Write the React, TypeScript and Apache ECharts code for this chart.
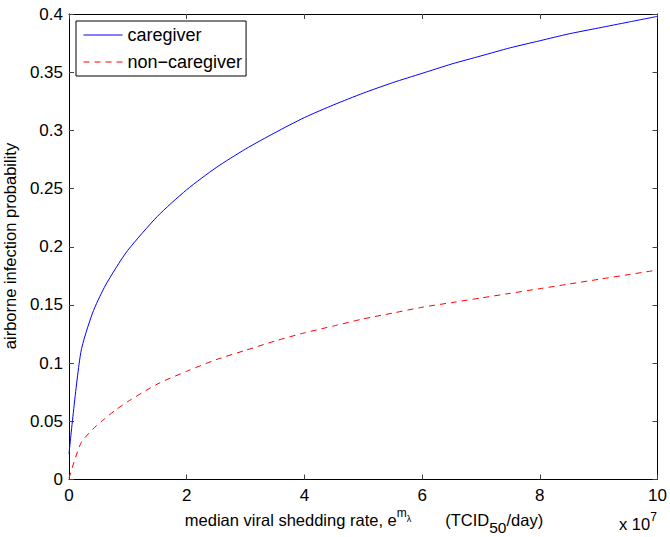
import React, { useEffect, useRef } from "react";
import * as echarts from "echarts";

const xValues = [0, 0.2, 0.4, 0.6, 0.8, 1.0, 1.5, 2.0, 2.5, 3.0, 3.5, 4.0, 4.5, 5.0, 5.5, 6.0, 6.5, 7.0, 7.5, 8.0, 8.5, 9.0, 9.5, 10];
const caregiver = [0.022, 0.109, 0.143, 0.165, 0.182, 0.197, 0.226, 0.249, 0.268, 0.284, 0.298, 0.311, 0.322, 0.332, 0.341, 0.349, 0.357, 0.364, 0.371, 0.377, 0.383, 0.388, 0.393, 0.398];
const nonCaregiver = [0.001, 0.031, 0.043, 0.052, 0.06, 0.067, 0.082, 0.093, 0.103, 0.111, 0.119, 0.126, 0.132, 0.138, 0.143, 0.148, 0.152, 0.156, 0.16, 0.164, 0.168, 0.172, 0.176, 0.18];
const seriesNames = ["caregiver", "non\u2212caregiver"];

const FONT = "'Liberation Sans', Arial, Helvetica, sans-serif";

export default function App() {
  const ref = useRef<HTMLDivElement>(null);
  useEffect(() => {
    if (!ref.current) return;
    const chart = echarts.init(ref.current, undefined, { renderer: "svg" });
    const toPairs = (ys: number[]) => xValues.map((x, i) => [x, ys[i]]);
    const axisCommon = {
      type: "value" as const,
      axisLine: { show: true, onZero: false, lineStyle: { color: "#000", width: 1 } },
      axisTick: { show: true, inside: true, length: 5, lineStyle: { color: "#444", width: 1 } },
      splitLine: { show: false },
    };
    chart.setOption({
      animation: false,
      backgroundColor: "#fff",
      textStyle: { fontFamily: FONT },
      grid: { left: 69, top: 14, right: 12, bottom: 57.5, containLabel: false },
      xAxis: [
        {
          ...axisCommon,
          position: "bottom",
          min: 0,
          max: 10,
          interval: 2,
          axisLabel: { show: true, color: "#000", fontSize: 17, fontFamily: FONT, margin: 7 },
        },
        {
          ...axisCommon,
          position: "top",
          min: 0,
          max: 10,
          interval: 2,
          axisLabel: { show: false },
        },
      ],
      yAxis: [
        {
          ...axisCommon,
          position: "left",
          min: 0,
          max: 0.4,
          interval: 0.05,
          axisLabel: { show: true, color: "#000", fontSize: 17, fontFamily: FONT, margin: 6 },
        },
        {
          ...axisCommon,
          position: "right",
          min: 0,
          max: 0.4,
          interval: 0.05,
          axisLabel: { show: false },
        },
      ],
      legend: {
        orient: "vertical",
        left: 76,
        top: 21,
        data: seriesNames,
        itemWidth: 39,
        itemHeight: 14,
        itemGap: 9,
        padding: [5, 4, 5, 7],
        borderColor: "#000",
        borderWidth: 1,
        borderRadius: 0,
        backgroundColor: "#fff",
        itemStyle: { opacity: 0 },
        lineStyle: { width: 1, inactiveWidth: 1 },
        textStyle: { color: "#000", fontSize: 18, fontFamily: FONT },
      },
      series: [
        {
          name: seriesNames[0],
          type: "line",
          data: toPairs(caregiver),
          symbol: "none",
          smooth: 0.25,
          lineStyle: { color: "#0000ff", width: 1 },
          itemStyle: { color: "#0000ff" },
          z: 3,
        },
        {
          name: seriesNames[1],
          type: "line",
          data: toPairs(nonCaregiver),
          symbol: "none",
          smooth: 0.25,
          lineStyle: { color: "#ff0000", width: 1, type: [6, 5] },
          itemStyle: { color: "#ff0000" },
          z: 3,
        },
      ],
      graphic: [
        {
          type: "text",
          x: 364,
          y: 520,
          style: {
            text: "{a|median viral shedding rate, e}{sup|m}{lam|\u03bb}{gap| }{a|(TCID}{sub|50}{a|/day)}",
            textAlign: "center",
            textVerticalAlign: "middle",
            fill: "#000",
            rich: {
              a: { fontSize: 16.5, fontFamily: FONT, fill: "#000", verticalAlign: "middle" },
              sup: { fontSize: 12, fontFamily: FONT, fill: "#000", verticalAlign: "middle", padding: [0, 0, 15, 0] },
              lam: { fontSize: 9, fontFamily: FONT, fill: "#000", verticalAlign: "middle", padding: [0, 0, 2, 0] },
              gap: { fontSize: 16.5, width: 34, verticalAlign: "middle" },
              sub: { fontSize: 15.5, fontFamily: FONT, fill: "#000", verticalAlign: "middle", padding: [14, 0, 0, 0] },
            },
          },
        },
        {
          type: "text",
          x: 619,
          y: 524,
          style: {
            text: "{a|x 10}{sup|7}",
            textAlign: "left",
            textVerticalAlign: "middle",
            fill: "#000",
            rich: {
              a: { fontSize: 16.5, fontFamily: FONT, fill: "#000", verticalAlign: "middle" },
              sup: { fontSize: 12, fontFamily: FONT, fill: "#000", verticalAlign: "middle", padding: [0, 0, 14, 0] },
            },
          },
        },
        {
          type: "text",
          x: 10,
          y: 246,
          rotation: Math.PI / 2,
          style: {
            text: "airborne infection probability",
            textAlign: "center",
            textVerticalAlign: "middle",
            fill: "#000",
            fontSize: 16.5,
            fontFamily: FONT,
          },
        },
      ],
    });
    return () => chart.dispose();
  }, []);
  return (
    <div
      ref={ref}
      style={{ position: "absolute", left: 0, top: 0, width: 670, height: 537 }}
    />
  );
}
